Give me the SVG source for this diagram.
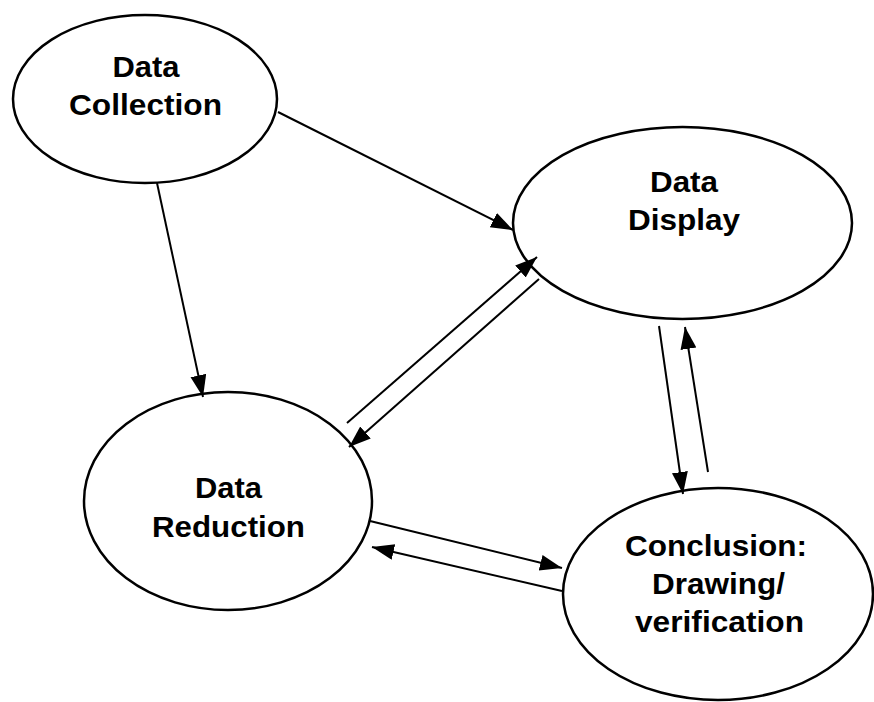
<svg xmlns="http://www.w3.org/2000/svg" width="874" height="702" viewBox="0 0 874 702">
<defs>
<style>
.node ellipse{fill:none;stroke:#000;stroke-width:2.5}
.node text{font-family:"Liberation Sans",Arial,sans-serif;font-weight:bold;font-size:30px;fill:#000;text-anchor:middle}
#connectors line{stroke:#000;stroke-width:2}
.arr{marker-end:url(#ah)}
</style>
<marker id="ah" markerUnits="userSpaceOnUse" markerWidth="24" markerHeight="18" refX="22" refY="8" orient="auto" viewBox="0 0 24 18">
<path d="M0,0 L22,8 L0,16 z" fill="#000"/>
</marker>
</defs>
<rect width="874" height="702" fill="#fff"/>
<g id="connectors">
<line class="arr" x1="278" y1="112" x2="513" y2="230"/>
<line class="arr" x1="157" y1="183" x2="203" y2="397"/>
<line class="arr" x1="347" y1="423" x2="537" y2="257"/>
<line class="arr" x1="539" y1="279" x2="349" y2="447"/>
<line class="arr" x1="659" y1="326" x2="683" y2="494"/>
<line class="arr" x1="708" y1="472" x2="685" y2="327"/>
<line class="arr" x1="370" y1="521" x2="562" y2="568"/>
<line class="arr" x1="562" y1="591" x2="372" y2="547"/>
</g>
<g id="data-collection" class="node">
<ellipse cx="145" cy="99" rx="132" ry="84"/>
<text x="146" y="77" textLength="67" lengthAdjust="spacingAndGlyphs">Data</text>
<text x="145.5" y="115" textLength="153" lengthAdjust="spacingAndGlyphs">Collection</text>
</g>
<g id="data-display" class="node">
<ellipse cx="682.5" cy="223" rx="169.5" ry="96"/>
<text x="684" y="192" textLength="68" lengthAdjust="spacingAndGlyphs">Data</text>
<text x="684" y="230" textLength="112" lengthAdjust="spacingAndGlyphs">Display</text>
</g>
<g id="data-reduction" class="node">
<ellipse cx="228" cy="501" rx="144" ry="109"/>
<text x="228.5" y="498" textLength="67" lengthAdjust="spacingAndGlyphs">Data</text>
<text x="228.5" y="537" textLength="153" lengthAdjust="spacingAndGlyphs">Reduction</text>
</g>
<g id="conclusion" class="node">
<ellipse cx="718" cy="594" rx="155" ry="106"/>
<text x="716" y="556" textLength="182" lengthAdjust="spacingAndGlyphs">Conclusion:</text>
<text x="718.5" y="594" textLength="133" lengthAdjust="spacingAndGlyphs">Drawing/</text>
<text x="719.5" y="632" textLength="169" lengthAdjust="spacingAndGlyphs">verification</text>
</g>
</svg>
